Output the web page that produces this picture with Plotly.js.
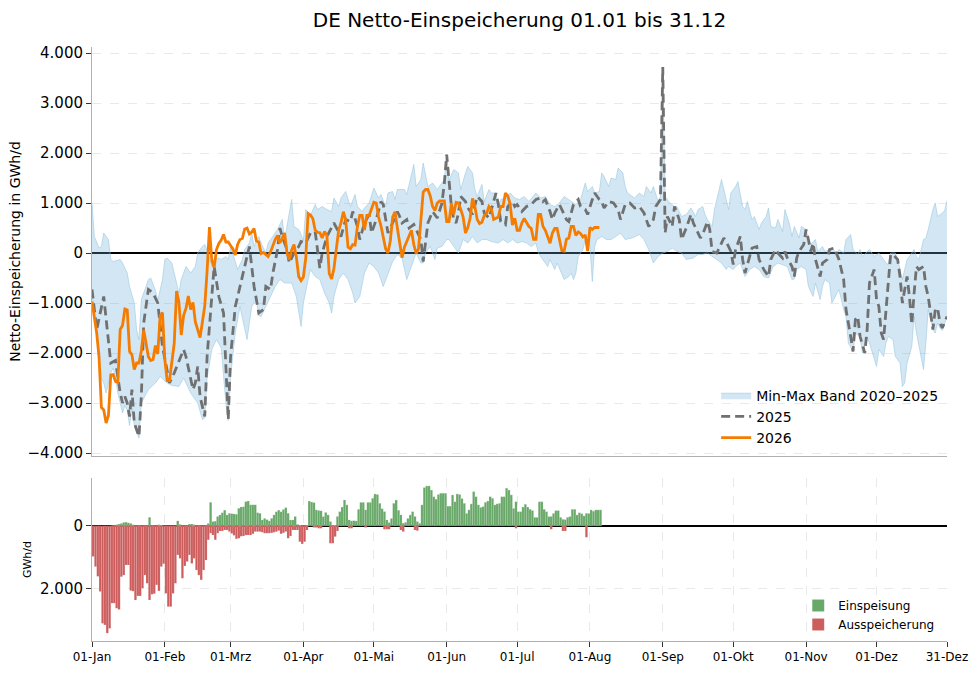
<!DOCTYPE html>
<html>
<head>
<meta charset="utf-8">
<script src="https://cdn.plot.ly/plotly-3.0.1.min.js"></script>
<style>html,body{margin:0;padding:0;background:#fff;}#chart{width:979px;height:676px;}</style>
</head>
<body>
<div id="chart"></div>
<script>
// ---------- DATA ----------
const tickDates = ['2026-01-01','2026-02-01','2026-03-01','2026-04-01','2026-05-01','2026-06-01','2026-07-01','2026-08-01','2026-09-01','2026-10-01','2026-11-01','2026-12-01','2026-12-31'];
const tickLabels = ['01-Jan','01-Feb','01-Mrz','01-Apr','01-Mai','01-Jun','01-Jul','01-Aug','01-Sep','01-Okt','01-Nov','01-Dez','31-Dez'];
const barTickVals = [-2000, 0];
const barTickText = ['2.000', '0'];

// Min-Max band 2020-2025 (day of year, GWh/d)
const bandMaxDays = [0,1,3,4,5,7,8,9,12,13,15,16,18,19,20,21,23,24,25,27,28,30,31,32,34,35,37,38,40,41,42,44,45,47,48,49,51,52,54,55,57,58,59,61,62,64,65,67,68,69,71,72,74,75,76,78,79,81,82,84,85,86,88,89,90,91,93,95,96,98,100,102,103,105,106,108,110,112,113,115,116,118,120,122,123,125,126,128,129,130,133,134,135,137,138,140,141,143,145,147,150,151,152,154,156,157,159,160,162,163,164,166,167,169,170,172,173,174,176,178,180,182,184,186,189,191,193,195,197,199,201,203,206,208,210,211,213,214,216,217,218,220,221,223,224,226,227,228,231,233,235,236,238,239,241,242,243,244,246,248,249,251,253,255,257,258,260,261,262,264,265,267,268,270,271,272,274,275,277,278,279,281,282,284,285,287,288,289,291,292,294,295,297,298,299,301,302,304,305,306,308,309,311,312,314,315,317,318,320,321,323,324,326,327,328,330,331,333,334,335,338,339,340,341,342,343,345,346,347,349,350,351,352,354,355,356,358,359,360,362,363,364];
const bandMax = [1000,330,100,130,400,270,-130,-170,-130,-200,-400,-670,-1000,-1530,-1730,-930,-670,-530,-500,-750,-950,-530,-130,-100,-200,-400,-800,-530,-270,-330,-400,-270,0,130,170,70,-270,-130,-100,-130,-70,-130,130,-170,-330,-130,70,200,400,130,330,200,0,200,270,400,470,670,270,800,1070,530,470,370,250,870,750,970,870,930,870,830,1100,930,1100,1230,930,1170,930,830,900,1000,1300,1100,1170,930,1200,1230,1070,1270,1270,1170,1370,1770,1330,1470,1800,1330,1400,1270,1470,1970,1450,1670,1600,1270,1600,1730,1600,1270,1130,1370,1030,1270,1200,1200,930,1070,1100,1200,1100,1070,1130,1030,1200,1100,1130,970,930,1000,1130,1070,970,1070,1400,1230,1330,1200,1230,1600,1530,1330,1500,1470,1700,1600,1330,1200,1100,1200,1130,1330,1200,1330,1030,1130,3720,1130,1000,930,930,730,770,900,730,870,930,770,670,530,870,1270,1470,1070,870,1200,1330,1430,930,870,1030,670,730,470,600,730,900,530,500,670,430,870,570,330,530,300,530,470,270,170,270,30,130,30,70,100,0,70,0,270,370,70,-30,70,-70,30,70,-70,-30,0,-200,-230,0,0,0,-130,-530,-330,-130,0,70,-70,-130,270,300,470,870,1000,730,800,850,1050];

const bandMinDays = [0,1,2,3,4,5,6,7,8,9,10,11,12,13,14,15,16,17,18,20,21,22,24,27,29,32,34,37,39,42,45,47,48,49,51,53,55,57,58,59,61,63,65,66,68,70,71,72,74,76,78,80,82,85,87,89,90,92,93,95,97,99,101,102,103,105,107,109,111,112,114,116,118,120,122,124,126,128,130,132,134,136,138,140,141,142,144,146,147,149,151,152,154,156,158,160,162,164,166,168,170,173,175,177,179,181,183,185,187,189,190,192,194,195,197,198,200,201,203,204,205,206,207,209,210,212,213,214,215,217,219,221,223,225,227,230,233,235,237,239,241,243,245,247,249,251,253,256,258,260,262,264,266,268,270,271,273,274,276,278,280,282,284,286,288,290,292,294,296,298,299,300,302,304,305,307,308,310,311,312,314,315,317,318,320,321,322,324,325,327,328,330,331,333,334,335,337,338,339,341,342,344,345,346,347,349,350,351,353,354,355,356,358,359,360,361,362,363,364];
const bandMin = [-800,-1300,-1600,-2200,-2500,-2600,-2800,-2600,-2400,-2300,-2500,-2800,-3000,-3200,-3050,-3150,-3450,-3100,-3450,-3700,-3000,-2900,-2730,-2600,-2470,-2600,-2650,-2670,-2500,-2800,-3000,-3330,-3300,-2500,-1930,-1730,-1900,-3000,-3350,-2470,-1600,-1070,-1470,-1730,-1070,-930,-1250,-1270,-1070,-870,-670,-530,-600,-600,-870,-1470,-1000,-530,-330,-470,-530,-800,-1000,-1200,-870,-530,-400,-530,-800,-1000,-870,-400,-200,-270,-400,-670,-400,-170,-30,-100,-530,-270,0,-200,-200,0,130,-130,100,130,270,270,130,0,270,200,330,200,270,270,230,200,270,200,270,200,230,200,130,200,0,-130,-270,-130,-330,-200,-400,-530,-470,-400,-530,-400,-70,70,270,130,-570,130,270,330,270,270,330,400,270,300,370,270,70,-200,-70,0,30,100,30,0,-130,-100,-30,-30,0,-70,-130,-200,-330,-270,-330,-270,-200,-470,-330,-270,-330,-470,-500,-270,-200,-230,-270,-530,-520,-330,-270,-330,-670,-870,-600,-930,-670,-530,-600,-1000,-800,-730,-1130,-1270,-1800,-1970,-1600,-1670,-2000,-1670,-1800,-2130,-2270,-1930,-2070,-1800,-1670,-1730,-2070,-2200,-2670,-2600,-2200,-1870,-1270,-1600,-2130,-2330,-1800,-1130,-1530,-1600,-1400,-1500,-1550,-1400,-1270];

// Netto-Einspeicherung 2025 (day of year, GWh/d)
const days2025 = [0,2,5,6,8,10,12,13,14,15,16,17,18,20,21,22,24,26,28,30,33,35,39,40,43,44,45,46,48,49,51,52,54,56,58,59,61,62,64,66,67,69,71,73,74,76,77,79,80,81,83,84,86,88,89,91,93,95,96,97,98,100,103,104,106,108,110,111,113,114,116,118,119,121,123,124,126,128,130,131,132,134,135,137,138,140,141,142,143,145,147,149,150,151,152,153,154,155,156,157,159,160,162,163,164,166,167,169,170,172,173,174,176,177,179,180,181,183,185,187,189,191,192,193,195,196,197,199,201,202,203,205,207,208,210,211,213,214,216,217,218,220,222,224,225,227,229,231,233,235,237,239,240,242,243,244,245,247,248,250,251,253,255,256,257,259,260,262,263,264,266,267,269,270,272,273,274,276,277,278,280,281,283,284,286,288,289,291,292,294,295,296,298,299,300,301,303,304,305,306,307,308,310,311,313,314,316,317,318,320,321,323,324,325,326,327,329,330,331,333,334,335,336,337,338,339,340,341,343,344,345,346,347,348,349,350,351,352,354,355,356,358,359,360,361,362,364];
const net2025 = [-730,-1530,-870,-1300,-2200,-2150,-2800,-3000,-2870,-3000,-3270,-2730,-3400,-3670,-2870,-1400,-730,-800,-1000,-1870,-2600,-2400,-1930,-2070,-2730,-2600,-2270,-2870,-3270,-2070,-730,-270,-870,-1200,-3330,-2070,-1070,-870,-530,-130,130,-670,-1200,-1130,-670,-730,-400,70,500,330,70,-200,0,130,230,200,400,430,0,-300,0,330,600,500,330,670,630,830,530,270,600,770,400,670,1030,970,400,600,830,730,600,670,500,570,470,270,-170,270,600,830,700,1000,1400,1970,1400,930,670,600,800,1130,1030,900,770,930,1130,1030,800,700,870,1200,970,630,570,930,1030,930,970,830,930,970,1070,1100,1030,1070,830,670,800,970,770,670,630,970,1070,930,870,770,1070,1200,1070,1030,900,1030,1000,870,670,970,1000,900,930,800,530,670,930,1070,3720,400,730,530,930,670,270,500,770,600,500,300,370,630,470,30,0,100,300,230,30,-230,70,330,-130,-400,-30,100,130,-130,-330,-470,-130,70,0,-100,30,-100,-270,-470,-100,30,170,470,270,30,200,-130,-470,-200,-130,70,100,0,-130,-530,-1130,-1670,-1970,-1330,-1270,-1670,-2000,-1530,-600,-330,-930,-1070,-1600,-1730,-1200,-530,-30,-30,-130,-470,-1000,-730,-470,-870,-1430,-800,-270,-330,-270,-670,-870,-1530,-1130,-1100,-1400,-1500,-1270];

// 2026 daily from 01-Jan (GWh/d)
const net2026 = [
-970,-1290,-1600,-2080,-3090,-3140,-3400,-3250,-2440,-2430,
-2570,-2590,-1530,-1450,-1120,-1140,-1970,-2030,-2330,-2200,
-2200,-1960,-1540,-1800,-2075,-2150,-2130,-1850,-2020,-1260,
-1190,-2130,-2550,-2550,-2130,-1810,-760,-980,-1640,-1250,
-1110,-860,-1130,-990,-1380,-1540,-1690,-1380,-1060,-360,
520,-150,-290,70,190,260,370,220,220,150,
80,-40,170,270,290,480,500,380,420,490,
240,220,-10,10,-30,-70,20,150,270,350,
200,300,400,10,-130,60,170,-80,-470,-550,
-480,-100,790,760,690,460,415,405,300,430,
350,-410,-520,-310,140,455,600,825,670,115,
85,170,160,530,750,750,460,750,750,880,
1015,1000,720,550,350,85,0,240,720,825,
500,220,-95,115,240,350,455,170,-10,85,
670,1220,1270,1270,1140,930,850,1000,1040,1040,
1040,630,630,985,770,1015,1000,870,720,400,
510,700,1090,930,670,590,615,750,790,930,
880,670,700,720,930,930,1200,1140,985,560,
695,455,455,600,690,600,530,490,275,275,
770,770,530,455,300,195,400,490,490,275,
50,40,275,300,530,530,350,420,390,320,
360,40,510,470,510,510,510];
const einspeisung = [
0,0,0,0,0,0,0,0,10,20,
40,60,80,110,120,100,80,40,20,20,
20,20,20,20,275,20,20,20,40,30,
10,10,10,10,10,10,160,50,20,20,
20,60,60,40,20,20,20,20,20,80,
750,140,150,300,350,420,500,350,400,390,
380,370,560,600,610,770,790,670,670,670,
420,400,190,240,200,160,240,350,450,500,
450,520,580,400,190,190,300,50,30,20,
20,30,790,760,740,510,490,480,300,430,
350,140,30,30,300,455,600,825,670,190,
160,170,160,530,750,750,510,750,750,880,
1015,1000,720,550,455,190,105,240,720,825,
500,350,85,115,240,350,455,300,140,85,
670,1220,1270,1270,1140,930,850,1000,1040,1040,
1040,630,630,985,770,1015,1000,870,720,400,
510,700,1090,930,670,590,615,750,790,930,
880,670,700,720,930,930,1200,1140,985,560,
770,455,455,600,690,600,530,490,275,275,
770,770,530,455,300,300,400,490,490,275,
210,200,275,300,530,530,350,420,390,320,
400,400,510,470,510,510,510];
const ausspeicherung = [
970,1290,1600,2080,3090,3140,3400,3250,2450,2450,
2610,2650,1610,1560,1240,1240,2050,2070,2350,2220,
2220,1980,1560,1820,2350,2170,2150,1870,2060,1290,
1200,2140,2560,2560,2140,1820,920,1030,1660,1270,
1130,920,1190,1030,1400,1560,1710,1400,1080,440,
230,290,440,230,160,160,130,130,180,240,
300,410,390,330,320,290,290,290,250,180,
180,180,200,230,230,230,220,200,180,150,
250,220,180,390,320,130,130,130,500,570,
500,130,0,0,50,50,75,75,0,0,
0,550,550,340,160,0,0,0,0,75,
75,0,0,0,0,0,50,0,0,0,
0,0,0,0,105,105,105,0,0,0,
0,130,180,0,0,0,0,130,150,0,
0,0,0,0,0,0,0,0,0,0,
0,0,0,0,0,0,0,0,0,0,
0,0,0,0,0,0,0,0,0,0,
0,0,0,0,0,0,0,0,0,0,
75,0,0,0,0,0,0,0,0,0,
0,0,0,0,0,105,0,0,0,0,
160,160,0,0,0,0,0,0,0,0,
360,0,0,0,0,0,0];

// ---------- CHART ----------
const DAY = 86400000;
const start = Date.UTC(2026, 0, 1);
const toDate = d => new Date(start + d * DAY).toISOString().slice(0, 10);
const daily = arr => arr.map((_, i) => toDate(i));

const FONT = 'DejaVu Sans, Liberation Sans, sans-serif';
const bandFill = 'rgba(107,174,214,0.30)';
const bandEdge = 'rgba(150,196,224,0.55)';

const traces = [
  {x: bandMinDays.map(toDate), y: bandMin, type: 'scatter', mode: 'lines',
   line: {color: bandEdge, width: 1}, showlegend: false, hoverinfo: 'skip', xaxis: 'x', yaxis: 'y'},
  {x: bandMaxDays.map(toDate), y: bandMax, type: 'scatter', mode: 'lines', fill: 'tonexty',
   fillcolor: bandFill, line: {color: bandEdge, width: 1}, name: 'Min-Max Band 2020–2025',
   legend: 'legend', xaxis: 'x', yaxis: 'y'},
  {x: days2025.map(toDate), y: net2025, type: 'scatter', mode: 'lines', name: '2025',
   line: {color: '#707070', width: 2.8, dash: '9px,5px'}, legend: 'legend', xaxis: 'x', yaxis: 'y'},
  {x: daily(net2026), y: net2026, type: 'scatter', mode: 'lines', name: '2026',
   line: {color: '#f57c00', width: 2.8}, legend: 'legend', xaxis: 'x', yaxis: 'y'},
  {x: daily(einspeisung), y: einspeisung, type: 'bar', name: 'Einspeisung',
   marker: {color: '#68a868', line: {color: 'rgba(255,255,255,0.22)', width: 0.5}}, width: DAY,
   xperiod: DAY, xperiod0: '2026-01-01', xperiodalignment: 'middle',
   legend: 'legend2', xaxis: 'x2', yaxis: 'y2'},
  {x: daily(ausspeicherung), y: ausspeicherung.map(v => -v), type: 'bar', name: 'Ausspeicherung',
   marker: {color: '#cd5c5c', line: {color: 'rgba(255,255,255,0.22)', width: 0.5}}, width: DAY,
   xperiod: DAY, xperiod0: '2026-01-01', xperiodalignment: 'middle',
   legend: 'legend2', xaxis: 'x2', yaxis: 'y2'}
];

const gridColor = '#e9e9e9';
const spine = '#b0b0b0';
const xRange = ['2026-01-01', '2026-12-31'];

const layout = {
  width: 979, height: 676,
  margin: {l: 92, r: 32, t: 47, b: 35},
  paper_bgcolor: '#ffffff', plot_bgcolor: '#ffffff',
  font: {family: FONT, color: '#000000', size: 12},
  separators: ',.',
  barmode: 'relative', bargap: 0,
  title: {text: 'DE Netto-Einspeicherung 01.01 bis 31.12', font: {size: 20, family: FONT, color: '#000'},
          x: 0.5, xref: 'paper', xanchor: 'center', y: 0.970, yref: 'container', yanchor: 'middle'},
  xaxis: {type: 'date', range: xRange, domain: [0, 1], anchor: 'y',
          showticklabels: false, ticks: '', showgrid: false, zeroline: false,
          showline: true, linecolor: spine, linewidth: 1, tickvals: tickDates},
  yaxis: {domain: [0.3114, 1], range: [-4060, 4120], anchor: 'x',
          tickvals: [-4000,-3000,-2000,-1000,0,1000,2000,3000,4000], tickformat: ',d',
          ticks: 'outside', ticklen: 5, tickcolor: '#333', tickfont: {size: 15},
          showline: true, linecolor: spine, linewidth: 1,
          showgrid: true, gridcolor: gridColor, griddash: 'dash', gridwidth: 1,
          zeroline: true, zerolinecolor: '#000000', zerolinewidth: 1.2,
          title: {text: 'Netto-Einspeicherung in GWh/d', font: {size: 14}, standoff: 3}},
  xaxis2: {type: 'date', range: xRange, domain: [0, 1], anchor: 'y2', matches: 'x',
           tickvals: tickDates, ticktext: tickLabels, tickfont: {size: 12},
           ticks: 'outside', ticklen: 5, tickcolor: '#333',
           showline: true, linecolor: spine, linewidth: 1,
           showgrid: true, gridcolor: gridColor, griddash: 'dash', gridwidth: 1, zeroline: false},
  yaxis2: {domain: [0, 0.2744], range: [-3650, 1520], anchor: 'x2',
           tickvals: barTickVals, ticktext: barTickText, tickfont: {size: 15},
           ticks: 'outside', ticklen: 5, tickcolor: '#333',
           showline: true, linecolor: spine, linewidth: 1,
           showgrid: true, gridcolor: gridColor, griddash: 'dash', gridwidth: 1,
           zeroline: true, zerolinecolor: '#000000', zerolinewidth: 1.2,
           title: {text: 'GWh/d', font: {size: 11}, standoff: 6}},
  legend: {x: 0.730, y: 0.440, xref: 'paper', yref: 'paper', xanchor: 'left', yanchor: 'top',
           traceorder: 'normal', bgcolor: 'rgba(255,255,255,0)', font: {size: 14}, tracegroupgap: 0},
  legend2: {x: 0.826, y: 0.084, xref: 'paper', yref: 'paper', xanchor: 'left', yanchor: 'top',
            traceorder: 'normal', bgcolor: 'rgba(255,255,255,0)', font: {size: 12}, tracegroupgap: 0},
  showlegend: true
};

Plotly.newPlot('chart', traces, layout, {displayModeBar: false, staticPlot: true});
</script>
</body>
</html>
